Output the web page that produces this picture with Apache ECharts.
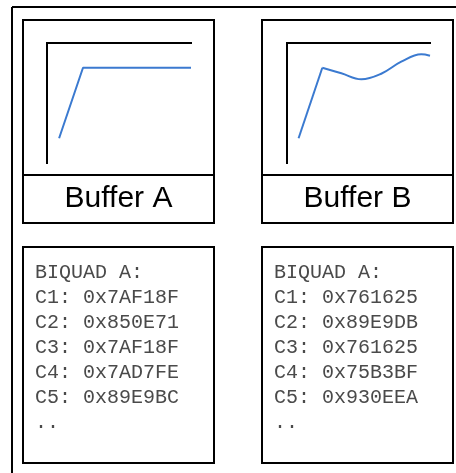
<!DOCTYPE html>
<html>
<head>
<meta charset="utf-8">
<script src="https://cdn.jsdelivr.net/npm/echarts@6/dist/echarts.min.js"></script>
<style>
  html, body { margin: 0; padding: 0; background: #fff; }
  #main { width: 456px; height: 473px; }
</style>
</head>
<body>
<div id="main"></div>
<script>
var bufferNames = ['Buffer A', 'Buffer B'];

// step response of each buffer, x and y in percent of the plot box
var responseA = [[8.4, 20.6], [25, 79.4], [100, 79.4]];
var rampB = [[8.1, 20.6], [24.7, 79.4]];
var curveB = [[24.7, 79.4], [38, 74.8], [52, 69.8], [65.9, 74.4], [79.9, 84.4], [93.9, 90.6], [100, 89.4]];

var biquadHeader = ['BIQUAD A:', 'BIQUAD A:'];
var coeffsA = ['0x7AF18F', '0x850E71', '0x7AF18F', '0x7AD7FE', '0x89E9BC'];
var coeffsB = ['0x761625', '0x89E9DB', '0x761625', '0x75B3BF', '0x930EEA'];

var chart = echarts.init(document.getElementById('main'), null, { renderer: 'canvas' });

var blue = '#3b7ad0';
var boxLeft = [23, 262];
var boxWidth = 191;

function axisPair(idx) {
  var common = {
    type: 'value', min: 0, max: 100, gridIndex: idx,
    axisTick: { show: false }, axisLabel: { show: false }, splitLine: { show: false },
    axisLine: { show: true, onZero: false, lineStyle: { color: '#000', width: 2, cap: 'square' } }
  };
  return {
    x: Object.assign({ position: 'top' }, common),
    y: Object.assign({ position: 'left' }, common)
  };
}
var ax0 = axisPair(0), ax1 = axisPair(1);

var graphics = [
  // outer frame (top and left edges visible)
  { type: 'line', shape: { x1: 12, y1: 7, x2: 456, y2: 7 }, style: { stroke: '#000', lineWidth: 2 } },
  { type: 'line', shape: { x1: 12, y1: 7, x2: 12, y2: 473 }, style: { stroke: '#000', lineWidth: 2 } }
];

[0, 1].forEach(function (i) {
  var l = boxLeft[i];
  graphics.push({ type: 'rect', shape: { x: l, y: 20, width: boxWidth, height: 203 }, style: { fill: 'none', stroke: '#000', lineWidth: 2 } });
  graphics.push({ type: 'line', shape: { x1: l, y1: 175, x2: l + boxWidth, y2: 175 }, style: { stroke: '#000', lineWidth: 2 } });
  graphics.push({ type: 'text', x: l + boxWidth / 2, y: 199, style: {
    text: bufferNames[i], fill: '#000', font: '30px "Liberation Sans", Arial, sans-serif',
    align: 'center', verticalAlign: 'middle'
  } });
  graphics.push({ type: 'rect', shape: { x: l, y: 247, width: boxWidth, height: 216 }, style: { fill: 'none', stroke: '#000', lineWidth: 2 } });

  var coeffs = i === 0 ? coeffsA : coeffsB;
  var lines = [biquadHeader[i]].concat(coeffs.map(function (c, k) { return 'C' + (k + 1) + ': ' + c; }), ['..']);
  lines.forEach(function (t, k) {
    graphics.push({ type: 'text', x: l + 12, y: 273 + k * 25, style: {
      text: t, fill: '#4a4a4a', font: '20px "Liberation Mono", "Courier New", monospace',
      align: 'left', verticalAlign: 'middle'
    } });
  });
});

var option = {
  animation: false,
  grid: [
    { left: 47, top: 43, width: 144, height: 120 },
    { left: 287, top: 43, width: 143, height: 120 }
  ],
  xAxis: [ax0.x, ax1.x],
  yAxis: [ax0.y, ax1.y],
  series: [
    { type: 'line', xAxisIndex: 0, yAxisIndex: 0, data: responseA, showSymbol: false,
      lineStyle: { color: blue, width: 2 } },
    { type: 'line', xAxisIndex: 1, yAxisIndex: 1, data: rampB, showSymbol: false,
      lineStyle: { color: blue, width: 2 } },
    { type: 'line', xAxisIndex: 1, yAxisIndex: 1, data: curveB, showSymbol: false, smooth: 0.4,
      lineStyle: { color: blue, width: 2 } }
  ],
  graphic: graphics
};

chart.setOption(option);

window.addEventListener('resize', function () {
  chart.resize();
});
</script>
</body>
</html>
